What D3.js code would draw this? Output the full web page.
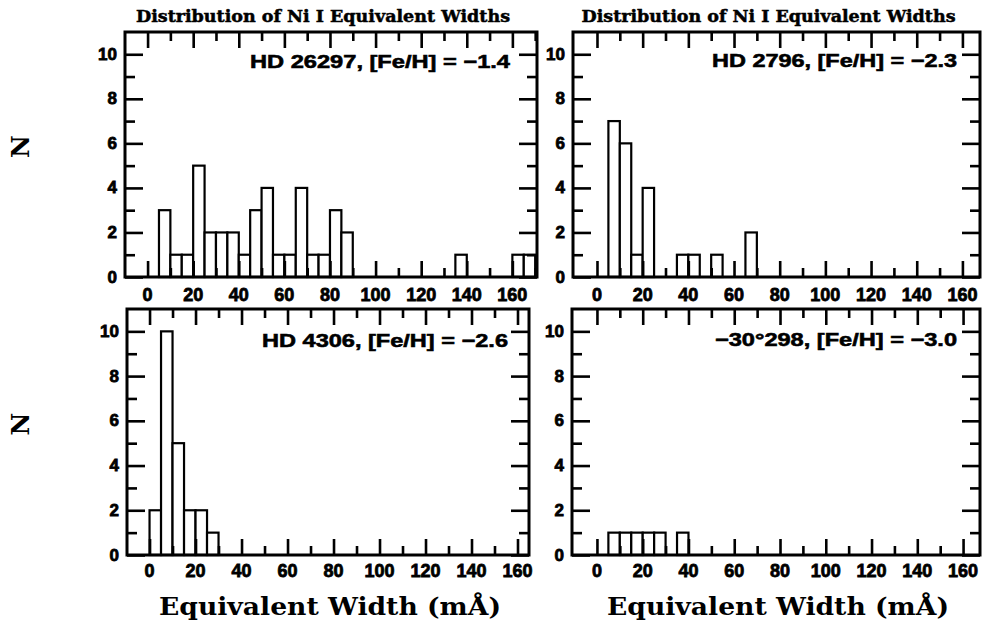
<!DOCTYPE html>
<html>
<head>
<meta charset="utf-8">
<script src="https://cdn.jsdelivr.net/npm/d3@7"></script>
<style>
  html, body { margin: 0; padding: 0; background: #fff; }
  svg { display: block; }
</style>
</head>
<body>
<svg id="chart" width="985" height="626"></svg>
<script>
// ---- data (bin start in mÅ, bin width 5 mÅ, counts N) ----
const binWidth = 5;
const hd26297Bins   = [5, 10, 15, 20, 25, 30, 35, 40, 45, 50, 55, 60, 65, 70, 75, 80, 85, 135, 160, 165];
const hd26297Counts = [3, 1, 1, 5, 2, 2, 2, 1, 3, 4, 1, 1, 4, 1, 1, 3, 2, 1, 1, 1];
const hd2796Bins    = [5, 10, 15, 20, 35, 40, 50, 65];
const hd2796Counts  = [7, 6, 1, 4, 1, 1, 1, 2];
const hd4306Bins    = [0, 5, 10, 15, 20, 25];
const hd4306Counts  = [2, 10, 5, 2, 2, 1];
const bd30298Bins   = [5, 10, 15, 20, 25, 35];
const bd30298Counts = [1, 1, 1, 1, 1, 1];

const panelLabels = ["HD 26297, [Fe/H] = \u22121.4", "HD 2796, [Fe/H] = \u22122.3",
                     "HD 4306, [Fe/H] = \u22122.6", "\u221230\u00B0298, [Fe/H] = \u22123.0"];
const titleText = "Distribution of Ni I Equivalent Widths";
const xLabelText = "Equivalent Width (m\u00C5)";
const yLabelText = "N";
const xMajorTicks = [0, 20, 40, 60, 80, 100, 120, 140, 160];
const xMinorTicks = [10, 30, 50, 70, 90, 110, 130, 150, 170];
const yMajorTicks = [0, 2, 4, 6, 8, 10];
const yMinorTicks = [1, 3, 5, 7, 9];

// ---- layout ----
const panels = [
  { bins: hd26297Bins, counts: hd26297Counts, label: panelLabels[0], x0: 125, x1: 537, y0: 32, y1: 277, xd: [-9.9, 170.8], title: true,  yLab: true,  tlY: 295, annL: 250, annR: 510, annY: 68 },
  { bins: hd2796Bins,  counts: hd2796Counts,  label: panelLabels[1], x0: 573, x1: 980, y0: 32, y1: 277, xd: [-10.5, 167.7], title: true, yLab: false, tlY: 295, annL: 712, annR: 957, annY: 67 },
  { bins: hd4306Bins,  counts: hd4306Counts,  label: panelLabels[2], x0: 127, x1: 529, y0: 309, y1: 555, xd: [-9.8, 165.0], title: false, yLab: true,  tlY: 571, annL: 262, annR: 508, annY: 347 },
  { bins: bd30298Bins, counts: bd30298Counts, label: panelLabels[3], x0: 572, x1: 980, y0: 309, y1: 555, xd: [-10.9, 167.4], title: false, yLab: false, tlY: 571, annL: 715, annR: 957, annY: 346 }
];

const svg = d3.select("#chart");
const tickFont = "'Liberation Sans', Arial, sans-serif";
const serifFont = "'DejaVu Serif', 'Liberation Serif', serif";

panels.forEach((p, i) => {
  const x = d3.scaleLinear().domain(p.xd).range([p.x0, p.x1]);
  const y = d3.scaleLinear().domain([0, 11]).range([p.y1, p.y0]);
  const g = svg.append("g");

  // bars
  g.selectAll("rect.bar")
    .data(p.bins.map((b, k) => ({ b, n: p.counts[k] })))
    .join("rect")
    .attr("class", "bar")
    .attr("x", d => x(d.b))
    .attr("width", d => x(d.b + binWidth) - x(d.b))
    .attr("y", d => y(d.n))
    .attr("height", d => y(0) - y(d.n))
    .attr("fill", "#fff")
    .attr("stroke", "#000")
    .attr("stroke-width", 2.2);

  const styleAxis = (sel, w) => {
    sel.select(".domain").remove();
    sel.selectAll(".tick line").attr("stroke", "#000").attr("stroke-width", w);
  };

  // x axes (bottom, top)
  const xMaj = xMajorTicks.filter(t => t >= p.xd[0] && t <= p.xd[1]);
  const xMin = xMinorTicks.filter(t => t > p.xd[0] && t < p.xd[1]);
  g.append("g").attr("transform", `translate(0,${p.y1})`)
    .call(d3.axisBottom(x).tickValues(xMaj).tickSizeInner(-16).tickSizeOuter(0).tickFormat(""))
    .call(s => styleAxis(s, 2.6));
  g.append("g").attr("transform", `translate(0,${p.y1})`)
    .call(d3.axisBottom(x).tickValues(xMin).tickSizeInner(-9).tickSizeOuter(0).tickFormat(""))
    .call(s => styleAxis(s, 2.6));
  g.append("g").attr("transform", `translate(0,${p.y0})`)
    .call(d3.axisTop(x).tickValues(xMaj).tickSizeInner(-16).tickSizeOuter(0).tickFormat(""))
    .call(s => styleAxis(s, 2.6));
  g.append("g").attr("transform", `translate(0,${p.y0})`)
    .call(d3.axisTop(x).tickValues(xMin).tickSizeInner(-9).tickSizeOuter(0).tickFormat(""))
    .call(s => styleAxis(s, 2.6));

  // y axes (left, right)
  g.append("g").attr("transform", `translate(${p.x0},0)`)
    .call(d3.axisLeft(y).tickValues(yMajorTicks).tickSizeInner(-18).tickSizeOuter(0).tickFormat(""))
    .call(s => styleAxis(s, 2.6));
  g.append("g").attr("transform", `translate(${p.x0},0)`)
    .call(d3.axisLeft(y).tickValues(yMinorTicks).tickSizeInner(-10).tickSizeOuter(0).tickFormat(""))
    .call(s => styleAxis(s, 2.6));
  g.append("g").attr("transform", `translate(${p.x1},0)`)
    .call(d3.axisRight(y).tickValues(yMajorTicks).tickSizeInner(-18).tickSizeOuter(0).tickFormat(""))
    .call(s => styleAxis(s, 2.6));
  g.append("g").attr("transform", `translate(${p.x1},0)`)
    .call(d3.axisRight(y).tickValues(yMinorTicks).tickSizeInner(-10).tickSizeOuter(0).tickFormat(""))
    .call(s => styleAxis(s, 2.6));

  // frame
  g.append("rect")
    .attr("x", p.x0).attr("y", p.y0)
    .attr("width", p.x1 - p.x0).attr("height", p.y1 - p.y0)
    .attr("fill", "none").attr("stroke", "#000").attr("stroke-width", 3);

  // tick labels
  g.selectAll("text.xtl").data(xMaj).join("text")
    .attr("class", "xtl")
    .attr("x", d => x(d)).attr("y", p.tlY)
    .attr("text-anchor", "middle").attr("dominant-baseline", "central")
    .attr("font-family", tickFont).attr("font-weight", "bold").attr("font-size", 18)
    .attr("stroke", "#000").attr("stroke-width", 0.8)
    .text(d => d);
  g.selectAll("text.ytl").data(yMajorTicks).join("text")
    .attr("class", "ytl")
    .attr("x", p.x0 - 8).attr("y", d => y(d))
    .attr("text-anchor", "end").attr("dominant-baseline", "central")
    .attr("font-family", tickFont).attr("font-weight", "bold").attr("font-size", 17)
    .attr("stroke", "#000").attr("stroke-width", 0.8)
    .text(d => d);

  // annotation
  g.append("text")
    .attr("x", p.annL).attr("y", p.annY)
    .attr("textLength", p.annR - p.annL).attr("lengthAdjust", "spacingAndGlyphs")
    .attr("font-family", tickFont).attr("font-weight", "bold").attr("font-size", 19)
    .attr("stroke", "#000").attr("stroke-width", 0.6)
    .text(p.label);

  // title
  if (p.title) {
    g.append("text")
      .attr("x", (p.x0 + p.x1) / 2 - 187 - 8).attr("y", 22)
      .attr("textLength", 374).attr("lengthAdjust", "spacingAndGlyphs")
      .attr("font-family", serifFont).attr("font-weight", "bold").attr("font-size", 17)
      .attr("stroke", "#000").attr("stroke-width", 0.5)
      .text(titleText);
  }

  // y label
  if (p.yLab) {
    const cy = (p.y0 + p.y1) / 2 - 8;
    g.append("text")
      .attr("transform", `translate(29,${cy}) rotate(-90)`)
      .attr("text-anchor", "middle")
      .attr("font-family", serifFont).attr("font-weight", "bold").attr("font-size", 25)
      .text(yLabelText);
  }

  // x label (bottom row only)
  if (!p.title) {
    g.append("text")
      .attr("x", (p.x0 + p.x1) / 2 + 2 - 171).attr("y", 615)
      .attr("textLength", 342).attr("lengthAdjust", "spacingAndGlyphs")
      .attr("font-family", serifFont).attr("font-weight", "bold").attr("font-size", 25)
      .text(xLabelText);
  }
});
</script>
</body>
</html>
